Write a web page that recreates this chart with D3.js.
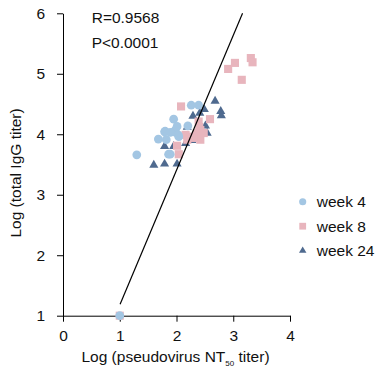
<!DOCTYPE html>
<html>
<head>
<meta charset="utf-8">
<script src="https://cdn.jsdelivr.net/npm/d3@7"></script>
<style>
  body { margin: 0; background: #fff; }
  text { font-family: "Liberation Sans", Arial, sans-serif; }
</style>
</head>
<body>
<div id="chart"></div>
<script>
// data: [log NT50, log IgG]
var week4 = [
  [1.0, 1.0], [1.30, 3.66], [1.68, 3.92], [1.80, 4.05], [1.79, 4.04],
  [1.86, 3.67], [1.89, 3.67], [1.95, 4.25], [1.95, 4.04], [1.98, 4.07],
  [2.01, 4.13], [2.03, 3.99], [2.04, 3.96], [1.82, 3.91], [1.89, 4.03],
  [2.20, 4.14], [2.26, 4.48], [2.39, 4.48]
];
var week8 = [
  [1.0, 1.0], [2.08, 4.46], [2.59, 4.25], [2.39, 4.21], [2.91, 5.08],
  [3.03, 5.18], [3.15, 4.90], [3.31, 5.26], [3.34, 5.19], [2.01, 3.81],
  [2.04, 3.67], [2.16, 3.99], [2.25, 3.96], [2.36, 4.02], [2.42, 3.91],
  [2.42, 4.07], [2.30, 3.94], [2.19, 3.91], [2.48, 4.02], [2.40, 4.12]
];
var week24 = [
  [1.60, 3.49], [1.79, 3.51], [2.01, 3.51], [1.79, 3.80], [1.95, 3.80],
  [2.29, 4.30], [2.41, 4.35], [2.49, 4.41], [2.68, 4.55], [2.78, 4.38],
  [2.79, 4.31], [2.51, 4.14], [2.27, 3.90], [2.16, 3.85], [2.19, 4.12],
  [2.54, 4.02]
];
var fitLine = [[1.006, 1.19], [3.164, 6.0]];
var xTicks = [0, 1, 2, 3, 4];
var yTicks = [1, 2, 3, 4, 5, 6];
var legendLabels = ["week 4", "week 8", "week 24"];
var statLines = ["R=0.9568", "P<0.0001"];

var W = 377, H = 372;
var margin = {top: 13.3, right: 87, bottom: 56.3, left: 63};
var width = W - margin.left - margin.right;
var height = H - margin.top - margin.bottom;
var fs = 15.5;

var svg = d3.select("#chart").append("svg")
    .attr("width", W).attr("height", H)
  .append("g")
    .attr("transform", "translate(" + margin.left + "," + margin.top + ")");

var x = d3.scaleLinear().domain([0, 4]).range([0, width]);
var y = d3.scaleLinear().domain([1, 6]).range([height, 0]);

// axes
var xAxis = svg.append("g")
    .attr("transform", "translate(0," + height + ")")
    .call(d3.axisBottom(x).tickValues(xTicks).tickFormat(d3.format("d"))
      .tickSize(6).tickPadding(8).tickSizeOuter(0));
var yAxis = svg.append("g")
    .call(d3.axisLeft(y).tickValues(yTicks).tickFormat(d3.format("d"))
      .tickSize(6).tickPadding(12).tickSizeOuter(0));
[xAxis, yAxis].forEach(function(a) {
  a.selectAll("path, line").attr("stroke", "#000").attr("stroke-width", 1);
  a.selectAll("text").attr("font-size", fs).attr("fill", "#111")
    .style("font-family", "Liberation Sans, Arial, sans-serif");
});

// axis labels
var xl = svg.append("text")
    .attr("x", width / 2 - 1).attr("y", height + 46.5)
    .attr("text-anchor", "middle").attr("font-size", fs).attr("fill", "#111");
xl.append("tspan").text("Log (pseudovirus NT");
xl.append("tspan").attr("font-size", 8).attr("dy", 4).text("50");
xl.append("tspan").attr("dy", -4).text(" titer)");

svg.append("text")
    .attr("transform", "translate(" + (-42) + "," + (y(3.36)) + ") rotate(-90)")
    .attr("text-anchor", "middle").attr("font-size", fs).attr("fill", "#111")
    .text("Log (total IgG titer)");

// stats
statLines.forEach(function(s, i) {
  svg.append("text")
    .attr("x", 28.7).attr("y", 9.4 + i * 25)
    .attr("font-size", fs).attr("fill", "#111")
    .text(s);
});

var colors = ["#a3c6e3", "#e8b5bd", "#4f6a8f"];
var shapes = [d3.symbolCircle, d3.symbolSquare, d3.symbolTriangle];
var sizes = [60, 66, 36];
var legendSizes = [40, 46, 24];

// points: week 24 under, then week 8, week 4 on top
[[week24, 2], [week8, 1], [week4, 0]].forEach(function(p) {
  var k = p[1];
  svg.append("g").selectAll("path")
    .data(p[0])
    .enter().append("path")
      .attr("transform", function(d) { return "translate(" + x(d[0]) + "," + y(d[1]) + ")"; })
      .attr("d", d3.symbol().type(shapes[k]).size(sizes[k]))
      .attr("fill", colors[k]);
});

// regression line
svg.append("path")
    .datum(fitLine)
    .attr("d", d3.line().x(function(d) { return x(d[0]); }).y(function(d) { return y(d[1]); }))
    .attr("stroke", "#000").attr("stroke-width", 1.2).attr("fill", "none");

// legend
var legend = svg.append("g").attr("transform", "translate(" + (width + 12.7) + "," + 188.4 + ")");
legendLabels.forEach(function(lab, i) {
  var g = legend.append("g").attr("transform", "translate(0," + (i * 24.5) + ")");
  g.append("path")
    .attr("d", d3.symbol().type(shapes[i]).size(legendSizes[i]))
    .attr("fill", colors[i]);
  g.append("text").attr("x", 14).attr("y", 5.5)
    .attr("font-size", fs).attr("fill", "#111").text(lab);
});
</script>
</body>
</html>
